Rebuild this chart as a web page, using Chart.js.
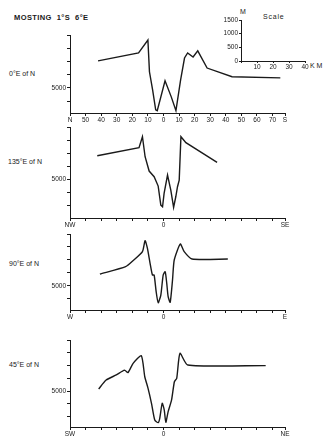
<!DOCTYPE html>
<html>
<head>
<meta charset="utf-8">
<script src="https://cdn.jsdelivr.net/npm/chart.js@4.4.1/dist/chart.umd.min.js"></script>
<style>
    body { margin: 0; background: #fff; width: 330px; height: 447px; position: relative; overflow: hidden; font-family: "Liberation Sans", "DejaVu Sans", sans-serif; color: #1a1a1a; }
    .box { position: absolute; left: 0; width: 330px; }
    .lbl { position: absolute; font-size: 7px; white-space: nowrap; line-height: 1; }
</style>
</head>
<body>

<div class="lbl" style="left:14px;top:14px;font-size:7.5px;font-weight:bold;letter-spacing:0.4px">MOSTING&nbsp;&nbsp;1°S&nbsp;&nbsp;6°E</div>
<div class="lbl" style="left:9px;top:70px">0°E of N</div>
<div class="lbl" style="left:8px;top:158px">135°E of N</div>
<div class="lbl" style="left:9px;top:260px">90°E of N</div>
<div class="lbl" style="left:9px;top:361px">45°E of N</div>
<div class="lbl" style="left:240px;top:8px">M</div>
<div class="lbl" style="left:263px;top:13px;letter-spacing:0.8px">Scale</div>
<div class="lbl" style="left:310px;top:62px">K M</div>

<div class="box" style="left:200px;width:130px;top:15px;height:56px"><canvas id="scale-chart"></canvas></div>
<div class="box" style="top:30px;height:95px"><canvas id="profile-0"></canvas></div>
<div class="box" style="top:122px;height:108px"><canvas id="profile-135"></canvas></div>
<div class="box" style="top:229px;height:93px"><canvas id="profile-90"></canvas></div>
<div class="box" style="top:335px;height:104px"><canvas id="profile-45"></canvas></div>

<script>
/**
 *  Profile data: distance (km) and depth (m)
 */
var km0 = [-42, -16, -10, -9, -7, -5, -4, 1, 5, 8, 11, 13.5, 15.5, 19, 22, 28, 44, 75];
var depth0 = [3980, 3680, 3190, 4390, 5070, 5830, 5860, 4730, 5340, 5860, 4700, 3870, 3680, 3830, 3600, 4250, 4580, 4620];

var km135 = [-42.5, -15.7, -13.5, -11.8, -9.2, -6, -3.4, -1.7, -0.6, 0.4, 2.6, 4.7, 6.5, 7.9, 9, 10.1, 11.2, 14.4, 34.4];
var depth135 = [4105, 3797, 3373, 4143, 4694, 4913, 5272, 6003, 6068, 5553, 4848, 5426, 6092, 5683, 5298, 5041, 3373, 3604, 4359];

var km90 = [-40.8, -24.3, -19, -13.5, -11.8, -10.3, -8.6, -7.1, -6, -4.7, -3.4, -1.7, -0.2, 1.1, 2.1, 3, 4.3, 5.8, 6.9, 10.8, 13.3, 18.3, 41.3];
var depth90 = [4540, 4259, 4001, 3681, 3258, 3551, 4128, 4579, 4579, 5221, 5645, 5349, 4579, 4451, 4898, 5414, 5630, 4771, 4001, 3385, 3681, 3963, 3963];

var km45 = [-41.6, -36.8, -30.3, -25, -22.8, -19.5, -14.2, -12, -9.9, -7.7, -5.6, -3.4, -2.4, -0.8, 0.5, 1.5, 3, 5.2, 7, 8.5, 10.6, 15.6, 65.6];
var depth45 = [4920, 4570, 4370, 4180, 4280, 3915, 3615, 4440, 4895, 5480, 6135, 6240, 6070, 5480, 5745, 6225, 5810, 5350, 4635, 4500, 3520, 3980, 4005];

/**
 *  Tick positions and labels
 */
var kmTicks = [-60, -50, -40, -30, -20, -10, 0, 10, 20, 30, 40, 50, 60, 70, 78];
var labels0 = ['N', '50', '40', '30', '20', '10', '0', '10', '20', '30', '40', '50', '60', '70', 'S'];
var labels135 = ['NW', '', '', '', '', '', '0', '', '', '', '', '', '', '', 'SE'];
var labels90 = ['W', '', '', '', '', '', '0', '', '', '', '', '', '', '', 'E'];
var labels45 = ['SW', '', '', '', '', '', '0', '', '', '', '', '', '', '', 'NE'];
var depthTicks = [3000, 3500, 4000, 4500, 5000, 5500, 6000];

var scaleKmTicks = [0, 10, 20, 30, 40];
var scaleKmLabels = ['', '10', '20', '30', '40'];
var scaleMTicks = [0, 500, 1000, 1500];
var scaleMLabels = ['0', '500', '1000', '1500'];

var ink = '#1a1a1a';

function toPoints(xs, ys)
{
    return xs.map(function (x, i) { return {x: x, y: ys[i]}; });
}

function profileChart(id, xs, ys, xLabels, yMax, tension)
{
    var ctx = document.getElementById(id).getContext('2d');
    return new Chart(ctx, {
        type: 'line',
        data: {
            datasets: [{
                data: toPoints(xs, ys),
                borderColor: ink,
                borderWidth: 1.4,
                pointRadius: 0,
                tension: tension,
                fill: false
            }]
        },
        options: {
            responsive: true,
            maintainAspectRatio: false,
            animation: false,
            layout: { padding: { top: 5, right: 45, left: 0, bottom: 0 } },
            plugins: { legend: { display: false }, tooltip: { enabled: false } },
            scales: {
                x: {
                    type: 'linear',
                    min: -60,
                    max: 78,
                    border: { color: ink, width: 1 },
                    grid: { drawOnChartArea: false, tickLength: 3, color: ink },
                    afterBuildTicks: function (scale) {
                        scale.ticks = kmTicks.map(function (v) { return {value: v}; });
                    },
                    afterFit: function (scale) { scale.height = 12; },
                    ticks: {
                        autoSkip: false,
                        maxRotation: 0,
                        padding: 0,
                        color: ink,
                        font: { size: 6.5, family: 'Liberation Sans' },
                        callback: function (value, index) { return xLabels[index]; }
                    }
                },
                y: {
                    type: 'linear',
                    reverse: true,
                    min: 3000,
                    max: yMax,
                    border: { color: ink, width: 1 },
                    grid: { drawOnChartArea: false, tickLength: 3, color: ink },
                    afterBuildTicks: function (scale) {
                        scale.ticks = depthTicks.filter(function (v) { return v < yMax - 100; })
                            .map(function (v) { return {value: v}; });
                    },
                    afterFit: function (scale) { scale.width = 70; },
                    ticks: {
                        autoSkip: false,
                        padding: 1,
                        color: ink,
                        font: { size: 6.5, family: 'Liberation Sans' },
                        callback: function (value) { return value === 5000 ? '5000' : ''; }
                    }
                }
            }
        }
    });
}

profileChart('profile-0', km0, depth0, labels0, 5950, 0);
profileChart('profile-135', km135, depth135, labels135, 6500, 0);
profileChart('profile-90', km90, depth90, labels90, 5925, 0.2);
profileChart('profile-45', km45, depth45, labels45, 6410, 0.2);

/**
 *  Scale inset (axes only)
 */
var ctx = document.getElementById('scale-chart').getContext('2d');
new Chart(ctx, {
    type: 'line',
    data: { datasets: [{ data: [] }] },
    options: {
        responsive: true,
        maintainAspectRatio: false,
        animation: false,
        layout: { padding: { top: 5, right: 25, left: 0, bottom: 0 } },
        plugins: { legend: { display: false }, tooltip: { enabled: false } },
        scales: {
            x: {
                type: 'linear',
                min: 0,
                max: 40,
                border: { color: ink, width: 1 },
                grid: { drawOnChartArea: false, tickLength: 2, color: ink },
                afterBuildTicks: function (scale) {
                    scale.ticks = scaleKmTicks.map(function (v) { return {value: v}; });
                },
                afterFit: function (scale) { scale.height = 10; },
                ticks: {
                    autoSkip: false,
                    maxRotation: 0,
                    padding: 0,
                    color: ink,
                    font: { size: 6.5, family: 'Liberation Sans' },
                    callback: function (value, index) { return scaleKmLabels[index]; }
                }
            },
            y: {
                type: 'linear',
                min: 0,
                max: 1500,
                border: { color: ink, width: 1 },
                grid: { drawOnChartArea: false, tickLength: 2, color: ink },
                afterBuildTicks: function (scale) {
                    scale.ticks = scaleMTicks.map(function (v) { return {value: v}; });
                },
                afterFit: function (scale) { scale.width = 41; },
                ticks: {
                    autoSkip: false,
                    padding: 1,
                    color: ink,
                    font: { size: 6.5, family: 'Liberation Sans' },
                    callback: function (value, index) { return scaleMLabels[index]; }
                }
            }
        }
    }
});
</script>
</body>
</html>
